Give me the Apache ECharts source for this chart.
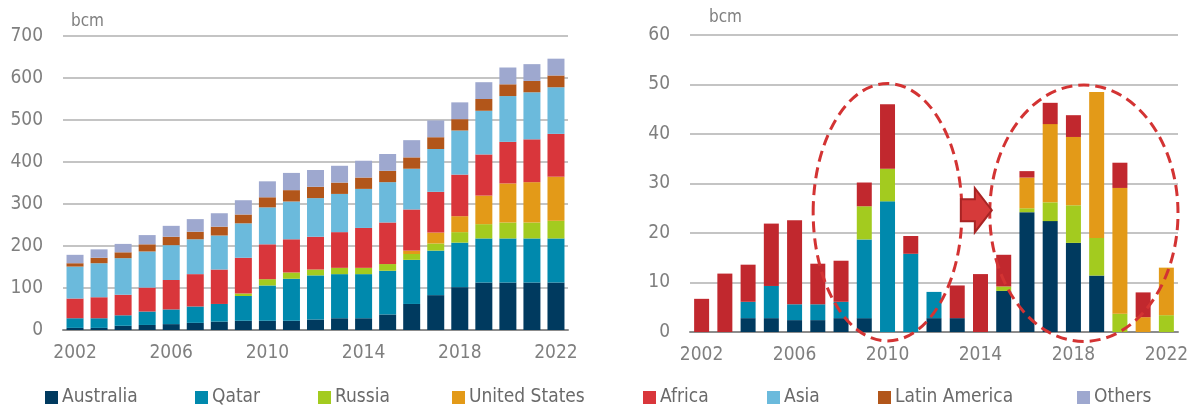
<!DOCTYPE html>
<html>
<head>
<meta charset="utf-8">
<script src="https://cdn.jsdelivr.net/npm/echarts@6/dist/echarts.min.js"></script>
<style>
  html, body { margin: 0; padding: 0; background: #ffffff; }
  #chart { width: 1195px; height: 408px; }
</style>
</head>
<body>
<div id="chart"></div>
<script>
// Years shared by both panels
const years = ['2002','2003','2004','2005','2006','2007','2008','2009','2010','2011',
               '2012','2013','2014','2015','2016','2017','2018','2019','2020','2021','2022'];

// Left panel: cumulative liquefaction capacity by exporter (bcm)
const capAustralia = [5, 5, 10, 12, 14, 17, 20, 22, 22, 22, 25, 28, 28, 37, 62, 83, 102, 113, 113, 113, 113];
const capQatar     = [23, 23, 25, 32, 35, 39, 42, 59, 84, 100, 105, 105, 105, 104, 105, 106, 106, 105, 105, 105, 105];
const capRussia    = [0, 0, 0, 0, 0, 0, 0, 6, 15, 15, 14, 15, 15, 16, 14, 17, 25, 34, 38, 38, 42];
const capUS        = [0, 0, 0, 0, 0, 0, 0, 0, 0, 0, 0, 0, 0, 0, 8, 26, 38, 68, 93, 96, 105];
const capAfrica    = [47, 50, 49, 57, 70, 77, 82, 85, 83, 79, 78, 85, 95, 99, 98, 97, 99, 98, 99, 102, 102];
const capAsia      = [76, 81, 87, 86, 83, 83, 81, 82, 88, 90, 92, 91, 93, 96, 97, 102, 105, 104, 109, 112, 111];
const capLatAm     = [8, 13, 14, 17, 20, 18, 21, 21, 24, 27, 27, 27, 27, 27, 27, 28, 27, 28, 28, 27, 28];
const capOthers    = [20, 20, 20, 22, 26, 30, 32, 34, 38, 41, 40, 40, 40, 40, 41, 40, 40, 40, 40, 40, 40];

// Right panel: capacity added each year (bcm)
const addAustralia = [0, 0, 2.8, 2.8, 2.4, 2.4, 2.8, 2.8, 0, 0, 2.8, 2.8, 0, 8.3, 24.2, 22.4, 18.0, 11.4, 0, 0, 0];
const addQatar     = [0, 0, 3.3, 6.5, 3.2, 3.2, 3.3, 15.9, 26.4, 15.8, 5.3, 0, 0, 0, 0, 0, 0, 0, 0, 0, 0];
const addRussia    = [0, 0, 0, 0, 0, 0, 0, 6.7, 6.6, 0, 0, 0, 0, 0.9, 0.8, 3.8, 7.6, 7.6, 3.7, 0, 3.4];
const addUS        = [0, 0, 0, 0, 0, 0, 0, 0, 0, 0, 0, 0, 0, 0, 6.2, 15.8, 13.8, 29.5, 25.4, 3.0, 9.6];
const addAfrica    = [6.7, 11.8, 7.5, 12.6, 17.0, 8.2, 8.3, 4.8, 13.0, 3.6, 0, 6.6, 11.7, 6.4, 1.3, 4.3, 4.4, 0, 5.1, 5.0, 0];

const leftTicks  = { min: 0, max: 700, interval: 100 };
const rightTicks = { min: 0, max: 60, interval: 10 };

const seriesNames = ['Australia', 'Qatar', 'Russia', 'United States', 'Africa', 'Asia', 'Latin America', 'Others'];

const colors = {
  'Australia': '#003a5f',
  'Qatar': '#0089ad',
  'Russia': '#a3cb1f',
  'United States': '#e39a18',
  'Africa': '#d9363b',
  'Asia': '#6bbadc',
  'Latin America': '#b2561a',
  'Others': '#9ea8cf'
};
const africaAddedColor = '#c1282e';

// Pick a condensed face when one is installed, otherwise a regular one at a smaller size
function fontInstalled(name) {
  const ctx = document.createElement('canvas').getContext('2d');
  const sample = 'Australia 2002 bcm';
  ctx.font = '40px monospace';
  const w0 = ctx.measureText(sample).width;
  ctx.font = "40px '" + name + "', monospace";
  return Math.abs(ctx.measureText(sample).width - w0) > 0.5;
}
let FONT = "'Liberation Sans', Arial, sans-serif";
let FS = 19;
if (fontInstalled('Liberation Sans Narrow')) { FONT = "'Liberation Sans Narrow', 'Liberation Sans', sans-serif"; FS = 23; }
else if (fontInstalled('DejaVu Sans Condensed')) { FONT = "'DejaVu Sans Condensed', sans-serif"; FS = 19; }

const labelColor = '#7f7f7f';
const legendColor = '#6a6a6a';

const chart = echarts.init(document.getElementById('chart'), null, { renderer: 'canvas' });

function barSeries(name, data, idx, width, color) {
  return {
    name: name,
    type: 'bar',
    stack: 'panel' + idx,
    xAxisIndex: idx,
    yAxisIndex: idx,
    barWidth: width,
    itemStyle: { color: color },
    emphasis: { disabled: true },
    data: data
  };
}

const leftSets = [capAustralia, capQatar, capRussia, capUS, capAfrica, capAsia, capLatAm, capOthers];
const rightSets = [addAustralia, addQatar, addRussia, addUS, addAfrica];

const series = [];
seriesNames.forEach((n, i) => series.push(barSeries(n, leftSets[i], 0, 17, colors[n])));
seriesNames.slice(0, 5).forEach((n, i) =>
  series.push(barSeries(n, rightSets[i], 1, 15, n === 'Africa' ? africaAddedColor : colors[n])));

// Legend entries laid out one by one along the bottom row
const legendSlots = [
  ['Australia', 40], ['Qatar', 190], ['Russia', 313], ['United States', 447],
  ['Africa', 638], ['Asia', 762], ['Latin America', 873], ['Others', 1072]
];
const legends = legendSlots.map(([name, x]) => ({
  data: [name],
  left: x,
  top: 383,
  itemWidth: 13,
  itemHeight: 13,
  itemGap: 0,
  icon: 'rect',
  selectedMode: false,
  textStyle: { fontFamily: FONT, fontSize: FS, color: legendColor, padding: [0, 0, 0, -1] }
}));

function xAxisFor(idx) {
  return {
    type: 'category',
    gridIndex: idx,
    data: years,
    axisTick: { show: false },
    axisLine: { lineStyle: { color: '#8c8c8c', width: 2 } },
    axisLabel: { interval: 3, margin: 14, fontFamily: FONT, fontSize: FS, color: labelColor }
  };
}
function yAxisFor(idx, ticks) {
  return {
    type: 'value',
    gridIndex: idx,
    min: ticks.min,
    max: ticks.max,
    interval: ticks.interval,
    axisLine: { show: false },
    axisTick: { show: false },
    splitLine: { lineStyle: { color: '#b0b0b0', width: 1.5 } },
    axisLabel: { margin: 20, fontFamily: FONT, fontSize: FS, color: labelColor }
  };
}

chart.setOption({
  animation: false,
  backgroundColor: '#ffffff',
  title: [
    { text: 'bcm', left: 66, top: 8, textStyle: { fontFamily: FONT, fontSize: FS - 2, fontWeight: 'normal', color: labelColor } },
    { text: 'bcm', left: 704, top: 4, textStyle: { fontFamily: FONT, fontSize: FS - 2, fontWeight: 'normal', color: labelColor } }
  ],
  legend: legends,
  grid: [
    { left: 63, right: 627, top: 36, bottom: 78 },
    { left: 690, right: 17, top: 35, bottom: 76 }
  ],
  xAxis: [xAxisFor(0), xAxisFor(1)],
  yAxis: [yAxisFor(0, leftTicks), yAxisFor(1, rightTicks)],
  series: series
});

// Dashed ellipses and the arrow on the right panel, placed in data units
const highlightRings = [
  { cat: 8.0, val: 24.2, rCat: 3.2, rVal: 26.0 },
  { cat: 16.45, val: 24.0, rCat: 4.05, rVal: 25.9 }
];
const arrowAt = { cat: 11.8, val: 24.6 };

function toPx(cat, val) {
  const p0 = chart.convertToPixel({ gridIndex: 1 }, [0, val]);
  const p1 = chart.convertToPixel({ gridIndex: 1 }, [1, val]);
  return [p0[0] + (p1[0] - p0[0]) * cat, p0[1]];
}

const graphics = highlightRings.map(r => {
  const c = toPx(r.cat, r.val);
  const e = toPx(r.cat + r.rCat, r.val + r.rVal);
  return {
    type: 'ellipse',
    silent: true,
    z: 100,
    shape: { cx: c[0], cy: c[1], rx: e[0] - c[0], ry: c[1] - e[1] },
    style: { fill: null, stroke: '#d33333', lineWidth: 3, lineDash: [11, 6] }
  };
});

const a = toPx(arrowAt.cat, arrowAt.val);
graphics.push({
  type: 'polygon',
  silent: true,
  z: 101,
  shape: {
    points: [
      [a[0] - 15, a[1] - 11], [a[0] - 1, a[1] - 11], [a[0] - 1, a[1] - 22],
      [a[0] + 16, a[1]], [a[0] - 1, a[1] + 22], [a[0] - 1, a[1] + 11], [a[0] - 15, a[1] + 11]
    ]
  },
  style: { fill: '#d63a3a', stroke: '#a82424', lineWidth: 2 }
});

chart.setOption({ graphic: graphics });
</script>
</body>
</html>
